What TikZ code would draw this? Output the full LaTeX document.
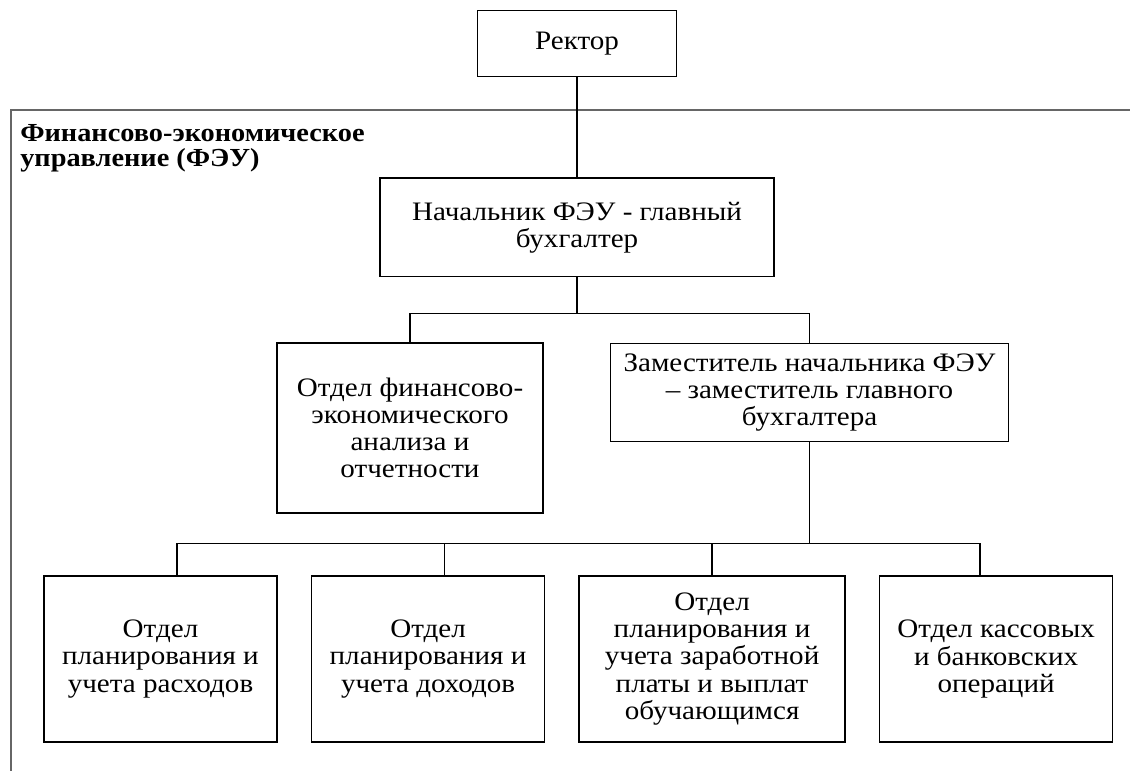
\documentclass[tikz,border=0pt]{standalone}
\usepackage{fontspec}
\setmainfont{Liberation Serif}[FakeStretch=1.09]
\usetikzlibrary{positioning}

\begin{document}
\begin{tikzpicture}[
    x=0.75pt, y=-0.75pt,
    font=\fontsize{20}{20.3}\selectfont,
    node distance=25pt,
    box/.style={draw, line width=0.9pt, align=center, inner sep=1pt},
    smallbox/.style={box, minimum width=174.75pt, minimum height=124.5pt},
    link/.style={line width=1pt},
    frame/.style={draw=black!60, line width=1.3pt}
  ]
    \useasboundingbox (0,0) rectangle (1130,771);
    % рамка ФЭУ
    \draw[frame] (1130,110) -- (11,110) -- (11,771);
    \node[anchor=north west, align=left, inner sep=0pt, font=\fontsize{19.5}{19}\selectfont\bfseries] (feu) at (20,124) {Финансово-экономическое\\управление (ФЭУ)};
    \node[box, minimum width=149pt, minimum height=50pt] (rektor) at (577,43.5) {Ректор};
    \node[box, minimum width=295.5pt, minimum height=74pt, below=75pt of rektor] (nach) {Начальник ФЭУ - главный\\бухгалтер};
    \node[box, minimum width=199.5pt, minimum height=127.5pt] (analiz) at (410,428) {Отдел финансово-\\экономического\\анализа и\\отчетности};
    \node[box, minimum width=299pt, minimum height=74pt] (zam) at (809.5,392.5) {Заместитель начальника ФЭУ\\– заместитель главного\\бухгалтера};
    % нижний ряд
    \node[smallbox] (rash) at (160.5,659) {Отдел\\планирования и\\учета расходов};
    \node[smallbox, right=of rash] (dohod) {Отдел\\планирования и\\учета доходов};
    \node[smallbox, minimum width=199.5pt, right=of dohod] (zp) {Отдел\\планирования и\\учета заработной\\платы и выплат\\обучающимся};
    \node[smallbox, right=of zp] (kassa) {Отдел кассовых\\и банковских\\операций};
    % связи
    \draw[link] (rektor) -- (nach);
    \draw[link] (nach.south) -- ++(0,36) coordinate (bus1);
    \draw[link] (analiz.north) |- (bus1) -| (zam.north);
    \draw[link] (zam.south) -- ++(0,101) coordinate (bus2);
    \coordinate (r1) at ([xshift=12.4pt]rash.north);
    \coordinate (d1) at ([xshift=12.4pt]dohod.north);
    \coordinate (k1) at ([xshift=-12pt]kassa.north);
    \draw[link] (r1) |- (bus2) -| (k1);
    \draw[link] (d1) -- (d1 |- bus2);
    \draw[link] (zp.north) -- (zp.north |- bus2);
  \end{tikzpicture}
\end{document}
